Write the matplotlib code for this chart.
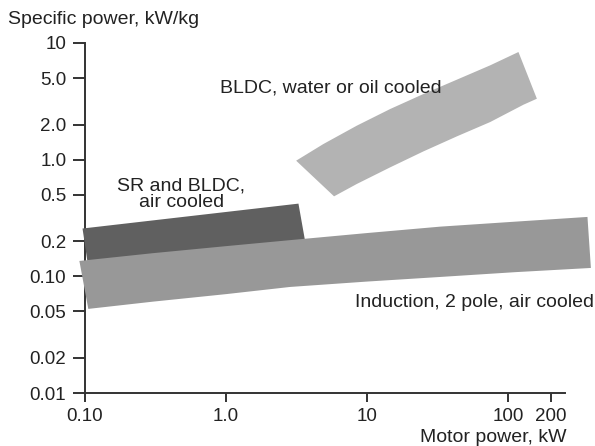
import matplotlib
matplotlib.use("Agg")
import matplotlib.pyplot as plt

plt.rcParams['font.family'] = ['Liberation Sans', 'DejaVu Sans']

# band outlines (motor power kW, specific power kW/kg)
# SR and BLDC, air cooled
sr_x = [0.096, 3.26, 3.63, 0.105]
sr_y = [0.257, 0.42, 0.202, 0.124]

# Induction, 2 pole, air cooled (top edge left->right, bottom edge right->left)
ind_x = [0.0912, 0.3035, 1.0, 2.84, 9.84, 33.0, 112.1, 365,
         386, 112.1, 33.0, 9.84, 2.84, 1.0, 0.3035, 0.1055]
ind_y = [0.1355, 0.158, 0.1815, 0.2043, 0.2346, 0.2667, 0.2942, 0.323,
         0.118, 0.1086, 0.0988, 0.0901, 0.0811, 0.0704, 0.0607, 0.0526]

# BLDC, water or oil cooled
bldc_x = [3.14, 4.90, 8.45, 14.56, 25.1, 43.3, 74.5, 118.3,
          159.8, 128.5, 74.5, 43.3, 25.1, 14.56, 8.45, 5.83]
bldc_y = [0.98, 1.362, 1.956, 2.716, 3.655, 4.85, 6.43, 8.37,
          3.33, 2.96, 2.10, 1.584, 1.178, 0.859, 0.619, 0.485]

xticks = [0.1, 1, 10, 100, 200]
xticklabels = ['0.10', '1.0', '10', '100', '200']
yticks = [0.01, 0.02, 0.05, 0.1, 0.2, 0.5, 1, 2, 5, 10]
yticklabels = ['0.01', '0.02', '0.05', '0.10', '0.2', '0.5', '1.0', '2.0', '5.0', '10']

txt = '#222222'
fs = 14

fig = plt.figure(figsize=(5.95, 4.46), dpi=100)
ax = fig.add_axes([0.1429, 0.1188, 0.8067, 0.7848])
ax.set_xscale('log')
ax.set_yscale('log')
ax.set_xlim(0.1, 253)
ax.set_ylim(0.01, 10)

ax.fill(sr_x, sr_y, color='#606060', lw=0, zorder=3, clip_on=False)
ax.fill(ind_x, ind_y, color='#989898', lw=0, zorder=4, clip_on=False)
ax.fill(bldc_x, bldc_y, color='#b3b3b3', lw=0, zorder=3, clip_on=False)

ax.text(0.906, 4.14, 'BLDC, water or oil cooled', fontsize=fs, color=txt,
        ha='left', va='center', zorder=5)
ax.text(0.48, 0.506, 'SR and BLDC,\nair cooled', fontsize=fs, color=txt,
        ha='center', va='center', linespacing=0.95, zorder=5)
ax.text(8.22, 0.0595, 'Induction, 2 pole, air cooled', fontsize=fs, color=txt,
        ha='left', va='center', zorder=5)

fig.text(8 / 595, 1 - 19 / 446, 'Specific power, kW/kg', fontsize=fs, color=txt,
         ha='left', va='center')
fig.text(567 / 595, 1 - 438 / 446, 'Motor power, kW', fontsize=fs, color=txt,
         ha='right', va='center')

ax.set_xticks(xticks)
ax.set_xticklabels(xticklabels)
ax.set_yticks(yticks)
ax.set_yticklabels(yticklabels)
ax.minorticks_off()
ax.tick_params(axis='y', length=8.5, width=1.4, color='#333333', pad=5,
               labelsize=13.5, labelcolor=txt)
ax.tick_params(axis='x', length=6.5, width=1.4, color='#333333', pad=4,
               labelsize=13.5, labelcolor=txt)

for side in ['top', 'right']:
    ax.spines[side].set_visible(False)
for side in ['left', 'bottom']:
    ax.spines[side].set_linewidth(1.4)
    ax.spines[side].set_color('#333333')

fig.savefig('out.png', dpi=100)
